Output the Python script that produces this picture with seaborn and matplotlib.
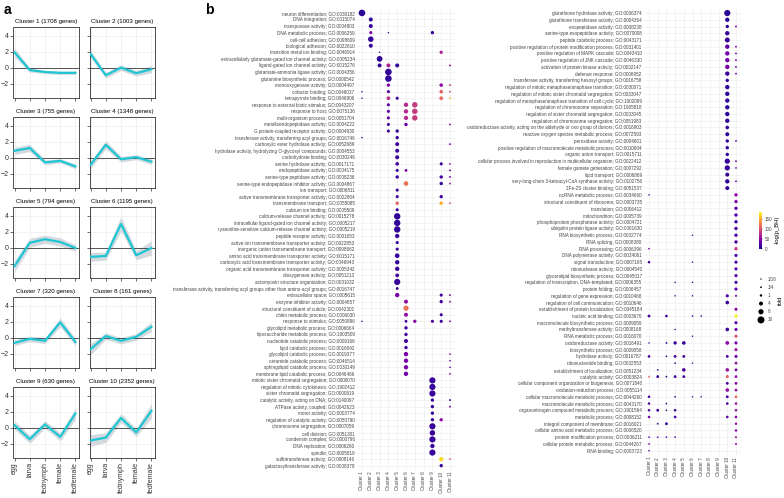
import numpy as np
import pandas as pd
import matplotlib
matplotlib.use("Agg")
import matplotlib.pyplot as plt
import seaborn as sns
from matplotlib.colors import Normalize
from matplotlib.cm import ScalarMappable

# ---- panel a data ----
stages = ["egg", "larva", "fednymph", "female", "fedfemale"]
cluster_titles = ["Cluster 1 (1708 genes)", "Cluster 2 (1003 genes)",
                  "Cluster 3 (755 genes)", "Cluster 4 (1348 genes)",
                  "Cluster 5 (794 genes)", "Cluster 6 (1195 genes)",
                  "Cluster 7 (320 genes)", "Cluster 8 (161 genes)",
                  "Cluster 9 (630 genes)", "Cluster 10 (2352 genes)"]
profiles = [[1.9, -0.3, -0.55, -0.65, -0.65],
            [1.7, -0.95, 0.0, -0.7, -0.2],
            [0.85, 1.2, -0.6, -0.4, -1.1],
            [-0.9, 1.6, -0.2, 0.05, -0.5],
            [-2.3, 0.6, 1.05, 0.7, -0.05],
            [-1.15, -1.05, 2.95, -0.95, -0.05],
            [-0.65, -0.15, -0.4, 1.9, -0.55],
            [-1.45, 0.2, -0.4, 0.1, 1.35],
            [0.3, -1.45, 0.4, -1.15, 1.75],
            [-1.6, -1.25, 1.2, -0.6, 2.1]]
ribbon = [[0.55, 0.25, 0.2, 0.2, 0.2],
          [0.45, 0.35, 0.35, 0.35, 0.45],
          [0.45, 0.45, 0.3, 0.25, 0.3],
          [0.45, 0.5, 0.35, 0.3, 0.35],
          [0.7, 0.55, 0.5, 0.5, 0.4],
          [0.55, 0.5, 0.9, 0.55, 0.9],
          [0.35, 0.35, 0.35, 0.55, 0.45],
          [0.7, 0.4, 0.4, 0.4, 0.6],
          [0.5, 0.5, 0.45, 0.5, 0.7],
          [0.7, 0.6, 0.55, 0.5, 0.9]]

# ---- panel b data ----
clusters = ["Cluster %d" % i for i in range(1, 12)]
terms_left = [
    "neuron differentiation; GO:0030182", "DNA integration; GO:0015074",
    "transposase activity; GO:0004803", "DNA metabolic process; GO:0006259",
    "cell-cell adhesion; GO:0098609", "biological adhesion; GO:0022610",
    "transition metal ion binding; GO:0046914",
    "extracellularly glutamate-gated ion channel activity; GO:0005234",
    "ligand-gated ion channel activity; GO:0015276",
    "glutamate-ammonia ligase activity; GO:0004356",
    "glutamine biosynthetic process; GO:0006542",
    "monooxygenase activity; GO:0004497", "cofactor binding; GO:0048037",
    "tetrapyrrole binding; GO:0046906",
    "response to external biotic stimulus; GO:0043207",
    "response to host; GO:0075136", "multi-organism process; GO:0051704",
    "metalloendopeptidase activity; GO:0004222",
    "G protein-coupled receptor activity; GO:0004930",
    "transferase activity, transferring acyl groups; GO:0016746",
    "carboxylic ester hydrolase activity; GO:0052689",
    "hydrolase activity, hydrolyzing O-glycosyl compounds; GO:0004553",
    "carbohydrate binding; GO:0030246", "serine hydrolase activity; GO:0017171",
    "endopeptidase activity; GO:0004175",
    "serine-type peptidase activity; GO:0008236",
    "serine-type endopeptidase inhibitor activity; GO:0004867",
    "ion transport; GO:0006811",
    "active transmembrane transporter activity; GO:0022804",
    "transmembrane transport; GO:0055085", "calcium ion binding; GO:0005509",
    "calcium-release channel activity; GO:0015278",
    "intracellular ligand-gated ion channel activity; GO:0005217",
    "ryanodine-sensitive calcium-release channel activity; GO:0005219",
    "peptide receptor activity; GO:0001653",
    "active ion transmembrane transporter activity; GO:0022853",
    "inorganic cation transmembrane transport; GO:0098662",
    "amino acid transmembrane transporter activity; GO:0015171",
    "carboxylic acid transmembrane transporter activity; GO:0046943",
    "organic acid transmembrane transporter activity; GO:0005342",
    "dioxygenase activity; GO:0051213",
    "actomyosin structure organization; GO:0031032",
    "transferase activity, transferring acyl groups other than amino-acyl groups; GO:0016747",
    "extracellular space; GO:0005615", "enzyme inhibitor activity; GO:0004857",
    "structural constituent of cuticle; GO:0042302",
    "chitin metabolic process; GO:0006030", "response to stimulus; GO:0050896",
    "glycolipid metabolic process; GO:0006664",
    "liposaccharide metabolic process; GO:1903509",
    "nucleotide catabolic process; GO:0009166",
    "lipid catabolic process; GO:0016042",
    "glycolipid catabolic process; GO:0019377",
    "ceramide catabolic process; GO:0046514",
    "sphingolipid catabolic process; GO:0030149",
    "membrane lipid catabolic process; GO:0046466",
    "mitotic sister chromatid segregation; GO:0000070",
    "regulation of mitotic cytokinesis; GO:1902412",
    "sister chromatid segregation; GO:0000819",
    "catalytic activity, acting on DNA; GO:0140097",
    "ATPase activity, coupled; GO:0042623", "motor activity; GO:0003774",
    "regulation of catalytic activity; GO:0050790",
    "chromosome segregation; GO:0007059", "cell division; GO:0051301",
    "condensin complex; GO:0000796", "DNA replication; GO:0006260",
    "spindle; GO:0005819", "sulfotransferase activity; GO:0008146",
    "galactosyltransferase activity; GO:0008378"]

terms_right = [
    "glutathione hydrolase activity; GO:0036374",
    "glutathione transferase activity; GO:0004364",
    "exopeptidase activity; GO:0008238",
    "serine-type exopeptidase activity; GO:0070008",
    "peptide catabolic process; GO:0043171",
    "positive regulation of protein modification process; GO:0031401",
    "positive regulation of MAPK cascade; GO:0043410",
    "positive regulation of JNK cascade; GO:0046330",
    "activation of protein kinase activity; GO:0032147",
    "defense response; GO:0006952",
    "transferase activity, transferring hexosyl groups; GO:0016758",
    "regulation of mitotic metaphase/anaphase transition; GO:0030071",
    "regulation of mitotic sister chromatid segregation; GO:0033047",
    "regulation of metaphase/anaphase transition of cell cycle; GO:1902099",
    "regulation of chromosome separation; GO:1905818",
    "regulation of sister chromatid segregation; GO:0033045",
    "regulation of chromosome segregation; GO:0051983",
    "oxidoreductase activity, acting on the aldehyde or oxo group of donors; GO:0016903",
    "reactive oxygen species metabolic process; GO:0072593",
    "peroxidase activity; GO:0004601",
    "positive regulation of macromolecule metabolic process; GO:0010604",
    "organic anion transport; GO:0015711",
    "cellular process involved in reproduction in multicellular organism; GO:0022412",
    "female gamete generation; GO:0007292", "lipid transport; GO:0006869",
    "very-long-chain 3-ketoacyl-CoA synthase activity; GO:0102756",
    "2Fe-2S cluster binding; GO:0051537", "ncRNA metabolic process; GO:0034660",
    "structural constituent of ribosome; GO:0003735", "translation; GO:0006412",
    "mitochondrion; GO:0005739",
    "phosphoprotein phosphatase activity; GO:0004721",
    "ubiquitin protein ligase activity; GO:0061630",
    "RNA biosynthetic process; GO:0032774", "RNA splicing; GO:0008380",
    "RNA processing; GO:0006396", "DNA polymerase activity; GO:0034061",
    "signal transduction; GO:0007165", "ribonuclease activity; GO:0004540",
    "glycerolipid biosynthetic process; GO:0045017",
    "regulation of transcription, DNA-templated; GO:0006355",
    "protein folding; GO:0006457", "regulation of gene expression; GO:0010468",
    "regulation of cell communication; GO:0010646",
    "establishment of protein localization; GO:0045184",
    "nucleic acid binding; GO:0003676",
    "macromolecule biosynthetic process; GO:0009059",
    "methyltransferase activity; GO:0008168",
    "RNA metabolic process; GO:0016070", "oxidoreductase activity; GO:0016491",
    "biosynthetic process; GO:0009058", "hydrolase activity; GO:0016787",
    "ribonucleotide binding; GO:0032553",
    "establishment of localization; GO:0051234",
    "catalytic activity; GO:0003824",
    "cellular component organization or biogenesis; GO:0071840",
    "oxidation-reduction process; GO:0055114",
    "cellular macromolecule metabolic process; GO:0044260",
    "macromolecule metabolic process; GO:0043170",
    "organonitrogen compound metabolic process; GO:1901564",
    "metabolic process; GO:0008152",
    "integral component of membrane; GO:0016021",
    "cellular amino acid metabolic process; GO:0006520",
    "protein modification process; GO:0036211",
    "cellular protein metabolic process; GO:0044267",
    "RNA binding; GO:0003723"]

# (term row, cluster, fold, -log(p_BH))
dots_left = [
    (1, 1, 14, 10), (2, 2, 4, 10), (3, 2, 4, 12),
    (4, 2, 2, 45), (4, 4, 0.1, 10), (4, 9, 2.5, 15),
    (5, 2, 9, 15), (6, 2, 4, 15), (7, 3, 0.1, 15), (7, 10, 2.5, 70),
    (8, 3, 10, 10), (9, 3, 4, 12), (9, 4, 4, 70), (9, 5, 4, 12), (9, 11, 0.4, 60),
    (10, 4, 14, 12), (11, 4, 14, 12),
    (12, 4, 2.5, 50), (12, 10, 3, 55), (12, 11, 0.3, 80),
    (13, 1, 0.1, 10), (13, 4, 2, 25), (13, 10, 3, 110), (13, 11, 0.3, 100),
    (14, 1, 0.1, 30), (14, 4, 3.5, 80), (14, 5, 2, 15), (14, 10, 3.5, 115), (14, 11, 0.3, 150),
    (15, 4, 2, 30), (15, 6, 5, 75), (15, 7, 9, 85),
    (16, 4, 2, 30), (16, 6, 5, 75), (16, 7, 9, 85),
    (17, 4, 2, 30), (17, 6, 5, 75), (17, 7, 9, 85),
    (18, 4, 2, 20), (18, 6, 2.5, 35), (18, 11, 0.3, 50),
    (19, 4, 2, 15), (19, 5, 2.5, 15), (20, 1, 0.1, 10), (20, 5, 2.5, 20),
    (21, 5, 4, 20), (21, 11, 0.3, 40), (22, 5, 4, 15), (23, 5, 4, 15),
    (24, 5, 3, 20), (24, 10, 2, 15), (24, 11, 0.3, 70),
    (25, 5, 2, 15), (25, 6, 1.5, 40), (25, 11, 0.3, 40),
    (26, 5, 2.5, 15), (26, 10, 2.5, 20), (26, 11, 0.3, 40),
    (27, 6, 6, 120), (27, 10, 2.5, 15), (27, 11, 0.3, 60),
    (28, 5, 2, 15), (29, 5, 2, 20), (29, 10, 2.5, 20),
    (30, 5, 2.5, 110), (30, 10, 3, 150), (30, 11, 0.3, 100),
    (31, 5, 2, 20), (32, 5, 13, 12), (33, 5, 13, 12), (34, 5, 13, 12),
    (35, 5, 5, 15), (36, 5, 2, 15), (37, 5, 2, 15), (38, 5, 6, 15),
    (39, 5, 5, 15), (40, 5, 5, 15), (41, 5, 3.5, 20), (42, 5, 12, 15),
    (43, 5, 1.5, 15), (44, 5, 5, 45), (44, 10, 2, 20), (44, 11, 0.3, 40),
    (45, 6, 4, 55), (45, 10, 2.5, 20), (45, 11, 0.3, 50),
    (46, 6, 8, 120), (47, 6, 4, 55), (47, 10, 2, 20),
    (48, 1, 0.1, 10), (48, 6, 1.5, 20), (48, 7, 2.5, 50), (48, 9, 2, 25),
    (48, 10, 2, 20), (48, 11, 0.3, 45),
    (49, 6, 2.5, 20), (50, 6, 2.5, 20), (51, 6, 4, 20), (52, 6, 2.5, 20),
    (53, 6, 5, 45), (53, 11, 0.2, 40), (54, 6, 5, 45), (54, 11, 0.2, 40),
    (55, 6, 5, 45), (55, 11, 0.2, 40), (56, 6, 5, 40), (56, 11, 0.2, 40),
    (57, 9, 12, 15), (58, 9, 12, 15), (59, 9, 12, 15),
    (60, 9, 2.5, 15), (60, 11, 0.4, 20), (61, 9, 2.5, 15), (61, 11, 0.4, 45),
    (62, 9, 2.5, 15), (63, 9, 2.5, 15), (63, 10, 2.5, 55),
    (64, 9, 12, 15), (65, 9, 9, 15), (66, 9, 12, 15), (67, 9, 5, 15),
    (68, 9, 12, 15), (69, 10, 5, 170), (69, 11, 0.3, 110), (70, 10, 2.5, 15)]

dots_right = [
    (1, 10, 12, 10), (2, 10, 5, 10), (3, 10, 2.5, 12), (3, 11, 0.4, 50),
    (4, 10, 5, 12), (5, 10, 7, 15),
    (6, 10, 5, 30), (6, 11, 0.3, 40), (7, 10, 5, 40), (7, 11, 0.3, 40),
    (8, 10, 5, 40), (8, 11, 0.3, 40), (9, 10, 5, 40), (9, 11, 0.3, 40),
    (10, 10, 5, 15), (10, 11, 0.3, 40), (11, 10, 2.5, 12),
    (12, 10, 5, 12), (13, 10, 5, 12), (14, 10, 5, 12), (15, 10, 5, 12),
    (16, 10, 5, 12), (17, 10, 5, 12), (18, 10, 3, 12), (19, 10, 4, 12),
    (20, 10, 2.5, 12), (20, 11, 0.3, 40), (21, 10, 2.5, 12), (22, 10, 2.5, 12),
    (23, 10, 8, 15), (23, 11, 0.3, 40), (24, 10, 8, 15), (24, 11, 0.2, 30),
    (25, 10, 4, 12), (26, 10, 5, 12), (26, 11, 0.3, 40), (27, 10, 4, 12),
    (28, 1, 0.1, 10), (28, 11, 2.5, 55), (29, 11, 2.5, 50), (30, 11, 2.5, 35),
    (31, 11, 2.5, 30), (32, 11, 2.5, 20), (33, 11, 2.5, 20),
    (34, 6, 0.1, 10), (34, 11, 2.5, 25), (35, 11, 2.5, 25),
    (36, 1, 0.2, 40), (36, 11, 2.5, 85), (37, 11, 2, 15),
    (38, 1, 1, 15), (38, 6, 0.1, 10), (38, 11, 2, 20),
    (39, 11, 2, 25), (40, 11, 2, 25),
    (41, 4, 0.1, 10), (41, 6, 0.1, 10), (41, 11, 2, 20), (42, 11, 2, 30),
    (43, 4, 0.1, 10), (43, 6, 0.1, 10), (43, 10, 2, 20), (43, 11, 0.5, 40),
    (44, 10, 3, 15), (45, 11, 2, 55),
    (46, 1, 1.5, 20), (46, 3, 1.2, 15), (46, 6, 0.15, 20), (46, 7, 0.15, 20),
    (46, 11, 2.5, 180), (47, 11, 2, 30),
    (48, 4, 0.1, 10), (48, 10, 3, 15), (48, 11, 2, 40),
    (49, 6, 0.1, 10), (49, 11, 2, 100),
    (50, 1, 0.1, 10), (50, 3, 0.3, 10), (50, 4, 2.5, 15), (50, 5, 3, 15),
    (50, 10, 3.5, 55), (50, 11, 2, 40), (51, 11, 2, 60),
    (52, 1, 1.2, 20), (52, 3, 0.2, 10), (52, 4, 1.5, 20), (52, 5, 1.5, 20),
    (52, 10, 1.5, 20), (52, 11, 2, 40),
    (53, 4, 0.2, 15), (53, 6, 0.1, 10), (53, 11, 1.5, 60),
    (54, 2, 0.2, 15), (54, 5, 3, 25), (54, 10, 3, 60), (54, 11, 1.5, 40),
    (55, 1, 0.3, 110), (55, 2, 1.5, 15), (55, 3, 0.3, 15), (55, 4, 1.5, 20),
    (55, 5, 1.5, 20), (55, 10, 2, 110), (55, 11, 1.5, 60),
    (56, 10, 1.5, 20), (56, 11, 1.5, 50), (57, 10, 3, 55), (57, 11, 1.5, 60),
    (58, 1, 1, 20), (58, 4, 0.2, 10), (58, 6, 0.1, 10), (58, 7, 0.1, 10),
    (58, 10, 1.5, 20), (58, 11, 1.5, 120),
    (59, 1, 1, 20), (59, 3, 0.2, 10), (59, 10, 1.2, 20), (59, 11, 1.2, 60),
    (60, 1, 1, 25), (60, 2, 1.5, 15), (60, 3, 0.2, 10), (60, 4, 1.2, 15),
    (60, 11, 1.2, 60),
    (61, 1, 1, 40), (61, 4, 1.2, 20), (61, 10, 1.2, 30), (61, 11, 1.2, 50),
    (62, 2, 0.3, 15), (62, 3, 1.5, 15), (62, 11, 1, 60), (63, 11, 1, 50),
    (64, 1, 0.2, 30), (64, 2, 0.2, 30), (64, 3, 0.2, 30), (64, 4, 0.2, 30),
    (64, 11, 0.5, 60), (65, 1, 0.2, 40), (65, 11, 0.5, 60), (66, 1, 0.15, 30)]

fold_breaks = [1 / 16, 1 / 4, 1, 4, 8, 16]
fold_labels = ["1/16", "1/4", "1", "4", "8", "16"]
cbar_ticks = [0, 50, 100, 150]
nlogp_max = 183

plt.rcParams["font.family"] = ["Liberation Sans", "DejaVu Sans"]
W, H = 784, 498
fig = plt.figure(figsize=(W / 100, H / 100), dpi=100)


def box(x0, y0, x1, y1):
    return [x0 / W, 1 - y1 / H, (x1 - x0) / W, (y1 - y0) / H]


def dot_area(fold):
    # area scale: diameter grows with sqrt(fold), 1px .. 7px
    d = 0.72 * (1 + 1.5 * np.sqrt(np.asarray(fold, dtype=float)))
    return d ** 2


amin, amax = float(dot_area(0)), float(dot_area(16))

# ---- panel a ----
col_left = [13.5, 89.5]
row_top = [26.7, 116.7, 206.7, 296.7, 386.7]
line_col = "#1DC6D2"
for k in range(10):
    r, c = divmod(k, 2)
    ax = fig.add_axes(box(col_left[c], row_top[r], col_left[c] + 65, row_top[r] + 71))
    vals = np.array(profiles[k])
    sd = np.array(ribbon[k])
    df = pd.DataFrame({"stage": range(5), "value": vals})
    ax.set_axisbelow(True)
    ax.grid(True, color="#EDEDED", lw=0.5)
    ax.fill_between(range(5), vals - sd, vals + sd, color="#D3D9DE", lw=0, zorder=2)
    ax.axhline(0, color="#3A3A3A", lw=0.6, zorder=3)
    sns.lineplot(data=df, x="stage", y="value", color=line_col, lw=1.6, ax=ax, zorder=4)
    ax.set_xlim(-0.07, 4.2)
    ax.set_ylim(-3.75, 5.1)
    ax.set_xticks(range(5))
    ax.set_yticks([-2, 0, 2, 4])
    ax.set_xlabel("")
    ax.set_ylabel("")
    ax.set_title(cluster_titles[k], fontsize=4.4, pad=2.5)
    for s in ax.spines.values():
        s.set_color("#333333")
        s.set_linewidth(0.6)
    ax.tick_params(length=2, width=0.5, color="#333333", pad=1.2, labelsize=5,
                   labelcolor="#333333")
    if r == 4:
        ax.set_xticklabels(stages, rotation=90)
    else:
        ax.set_xticklabels([])
    if c == 1:
        ax.set_yticklabels([])

fig.text(4 / W, 1 - 10 / H, "a", fontsize=10, fontweight="bold", va="center")
fig.text(205 / W, 1 - 10 / H, "b", fontsize=10, fontweight="bold", va="center")


# ---- panel b ----
def dotplot(ax, terms, dots):
    df = pd.DataFrame(dots, columns=["row", "cluster", "fold", "nlogp"])
    df["y"] = df["row"] - 1
    df["x"] = df["cluster"] - 1
    df["area"] = dot_area(df["fold"])
    ax.set_axisbelow(True)
    ax.grid(True, color="#EBEBEB", lw=0.4)
    sns.scatterplot(data=df, x="x", y="y", hue="nlogp", palette="plasma",
                    hue_norm=(0, nlogp_max), size="area", sizes=(amin, amax),
                    size_norm=(amin, amax), linewidth=0, legend=False, ax=ax)
    ax.set_xlim(-0.6, 10.6)
    ax.set_ylim(len(terms) - 0.4, -0.6)
    ax.set_xticks(range(11))
    ax.set_xticklabels(clusters, rotation=90)
    ax.set_yticks(range(len(terms)))
    ax.set_yticklabels(terms)
    ax.set_xlabel("")
    ax.set_ylabel("")
    for s in ax.spines.values():
        s.set_visible(False)
    ax.tick_params(length=0, pad=1.5, labelsize=3.35, labelcolor="#444444")


ax_l = fig.add_axes(box(356.7, 9, 455.3, 469.6))
dotplot(ax_l, terms_left, dots_left)
ax_r = fig.add_axes(box(643.8, 9, 741.2, 454.7))
dotplot(ax_r, terms_right, dots_right)

# colour bar
cax = fig.add_axes(box(758.5, 212, 762, 249.3))
sm = ScalarMappable(norm=Normalize(0, nlogp_max), cmap="plasma")
cb = fig.colorbar(sm, cax=cax, ticks=cbar_ticks)
cb.outline.set_visible(False)
cax.tick_params(labelsize=3.3, length=0.8, width=0.3, pad=1, colors="#444444")
fig.text(777 / W, 1 - 230 / H, "-log(p_BH)", rotation=90, fontsize=4.2,
         ha="center", va="center")

# size legend
lax = fig.add_axes(box(756, 275, 766, 324))
leg = pd.DataFrame({"x": 0, "y": range(len(fold_breaks)),
                    "area": dot_area(fold_breaks)})
sns.scatterplot(data=leg, x="x", y="y", size="area", sizes=(amin, amax),
                size_norm=(amin, amax), color="black", linewidth=0,
                legend=False, ax=lax)
lax.set_xlim(-1, 1)
lax.set_ylim(len(fold_breaks) - 0.5, -0.5)
lax.axis("off")
for i, lab in enumerate(fold_labels):
    lax.text(1.3, i, lab, fontsize=3.3, color="#444444", va="center", ha="left")
fig.text(780 / W, 1 - 300 / H, "fold", rotation=90, fontsize=4.2,
         ha="center", va="center")

fig.savefig("out.png", dpi=100)
